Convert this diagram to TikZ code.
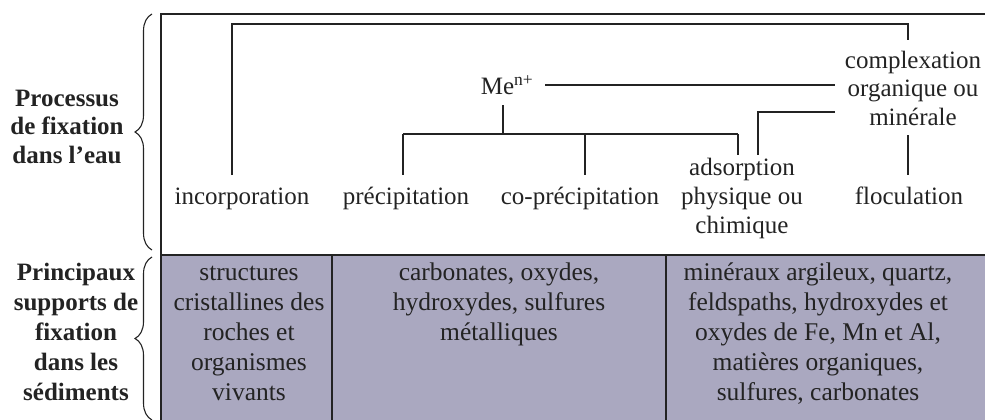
\documentclass[tikz,border=0pt]{standalone}
\usepackage{fontspec}
\setmainfont{Liberation Serif}
\usetikzlibrary{decorations.pathreplacing}
\definecolor{cellfill}{RGB}{170,168,192}
\definecolor{ink}{RGB}{35,35,35}
\begin{document}
\begin{tikzpicture}[x=1pt,y=-1pt,
  txt/.style={inner sep=0pt,anchor=base,align=center,text=ink,font=\fontsize{25}{29}\selectfont},
  wide/.style={font=\fontsize{25.5}{30}\selectfont},
  lbl/.style={inner sep=0pt,anchor=base,align=center,text=ink,font=\fontsize{25}{28.5}\selectfont\bfseries},
  conn/.style={line width=1.3pt,draw=ink},
  frame/.style={line width=1.6pt,draw=ink},
  brc/.style={decorate,decoration={brace,amplitude=17pt},line width=1.1pt,draw=ink}]
\useasboundingbox (0,0) rectangle (985,420);
% frame and shaded lower band
\fill[cellfill] (161,255) rectangle (990,425);
\draw[frame] (990,14) -- (161,14) -- (161,425);
\draw[frame] (161,255) -- (990,255);
\draw[frame] (332,255) -- (332,425);
\draw[frame] (666,255) -- (666,425);
% braces
\draw[brc] (152,250) -- (152,14);
\draw[brc] (152,420) -- (152,257);
% left labels (anchor = baseline of last line)
\node[lbl] (lproc) at (67,163) {Processus\\de fixation\\dans l’eau};
\node[lbl,font=\fontsize{25}{30}\selectfont\bfseries] (lsupp) at (76,400) {Principaux\\supports de\\fixation\\dans les\\sédiments};
% process nodes
\node[txt] (inc) at (242,204) {incorporation};
\node[txt] (prec) at (406,204) {précipitation};
\node[txt] (coprec) at (580,204) {co-précipitation};
\node[txt] (ads) at (742,233) {adsorption\\physique ou\\chimique};
\node[txt] (floc) at (909,204) {floculation};
\node[txt,font=\fontsize{25}{28.5}\selectfont] (cplx) at (913,125) {complexation\\organique ou\\minérale};
\node[txt] (me) at (507,95) {Me\textsuperscript{n+}};
% junctions
\coordinate (jInc) at (232,175);
\coordinate (jTop) at (908,24);
\coordinate (jMe) at (503,134);
\coordinate (jL) at (403,134);
\coordinate (jC) at (585,134);
\coordinate (jR) at (738,134);
\coordinate (jCx) at (758,112);
% connectors
\draw[conn] (jInc) |- (jTop) -- (908,40);
\draw[conn] (545,85) -- (835,85);
\draw[conn] (503,105) -- (jMe);
\draw[conn] (jL) -- (jR);
\draw[conn] (jL) -- (403,175);
\draw[conn] (jC) -- (585,175);
\draw[conn] (jR) -- (738,155);
\draw[conn] (835,112) -- (jCx) -- (758,155);
\draw[conn] (908,135) -- (908,175);
% bottom cells
\node[txt,wide] (c1) at (249,400) {structures\\cristallines des\\roches et\\organismes\\vivants};
\node[txt,wide] (c2) at (499,340) {carbonates, oxydes,\\hydroxydes, sulfures\\métalliques};
\node[txt,wide] (c3) at (818,400) {minéraux argileux, quartz,\\feldspaths, hydroxydes et\\oxydes de Fe, Mn et Al,\\matières organiques,\\sulfures, carbonates};
\end{tikzpicture}
\end{document}
